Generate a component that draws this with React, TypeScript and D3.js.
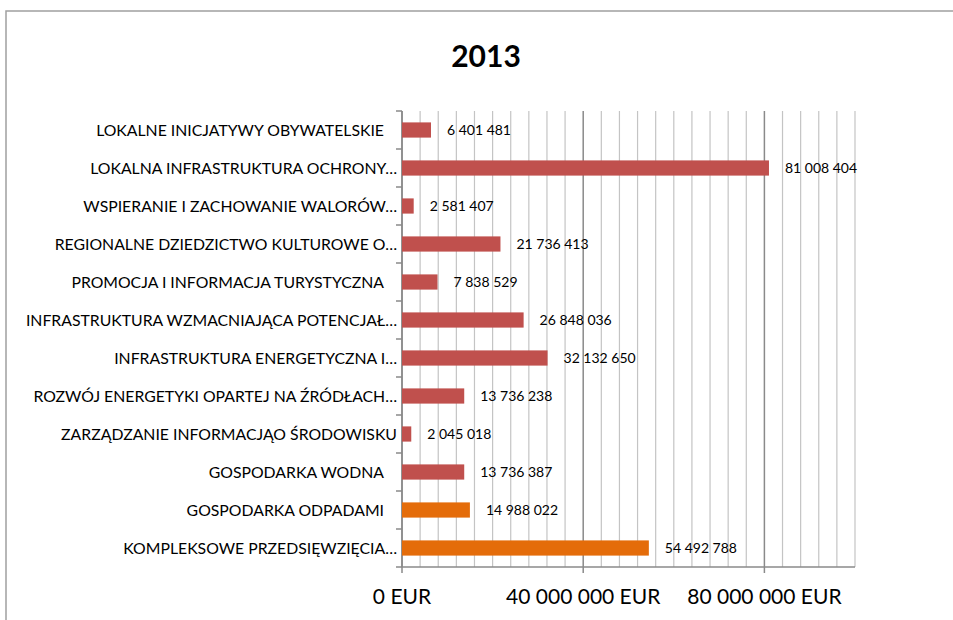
import React from "react";
import * as d3 from "d3";

const categories: string[] = [
  "LOKALNE INICJATYWY OBYWATELSKIE",
  "LOKALNA INFRASTRUKTURA OCHRONY…",
  "WSPIERANIE I ZACHOWANIE WALORÓW…",
  "REGIONALNE DZIEDZICTWO KULTUROWE O…",
  "PROMOCJA I INFORMACJA TURYSTYCZNA",
  "INFRASTRUKTURA WZMACNIAJĄCA POTENCJAŁ…",
  "INFRASTRUKTURA ENERGETYCZNA I…",
  "ROZWÓJ ENERGETYKI OPARTEJ NA ŹRÓDŁACH…",
  "ZARZĄDZANIE INFORMACJĄO ŚRODOWISKU",
  "GOSPODARKA WODNA",
  "GOSPODARKA ODPADAMI",
  "KOMPLEKSOWE PRZEDSIĘWZIĘCIA…",
];

const values: number[] = [
  6401481, 81008404, 2581407, 21736413, 7838529, 26848036, 32132650,
  13736238, 2045018, 13736387, 14988022, 54492788,
];

const highlighted: boolean[] = [
  false, false, false, false, false, false, false, false, false, false, true, true,
];

const xTicks: number[] = [0, 40000000, 80000000];
const title = "2013";

const W = 953;
const H = 620;
const left = 402;
const right = 855;
const top = 111;
const bottom = 567;

const fmt = (v: number) => d3.format(",")(v).replace(/,/g, " ");

export default function App() {
  const x = d3.scaleLinear().domain([0, 100000000]).range([left, right]);
  const y = d3
    .scaleBand<string>()
    .domain(categories)
    .range([top, bottom])
    .paddingInner(0.6)
    .paddingOuter(0.3);
  const minor = d3.range(0, 100000001, 4000000);
  const font = "Lato, 'Open Sans', sans-serif";
  const step = y.step();
  const boundaries = d3.range(categories.length + 1).map((i) => top + i * step);

  return (
    <svg
      width={W}
      height={H}
      style={{ position: "fixed", left: 0, top: 0, background: "#fff" }}
      fontFamily={font}
    >
      <rect x={0} y={0} width={W} height={H} fill="#fff" />
      <rect
        x={6}
        y={11}
        width={1000}
        height={700}
        fill="none"
        stroke="#a0a0a0"
        strokeWidth={1.5}
      />
      <text
        x={486}
        y={67}
        textAnchor="middle"
        fontSize={30}
        fontWeight="bold"
        fill="#000"
      >
        {title}
      </text>
      {minor.map((v) => (
        <line
          key={"g" + v}
          x1={x(v)}
          x2={x(v)}
          y1={top}
          y2={bottom}
          stroke={v % 40000000 === 0 ? "#8a8a8a" : "#c4c4c4"}
          strokeWidth={v % 40000000 === 0 ? 1.5 : 1.2}
        />
      ))}
      <line x1={left} x2={left} y1={top} y2={bottom} stroke="#8a8a8a" strokeWidth={1.5} />
      <line x1={left} x2={right} y1={bottom} y2={bottom} stroke="#8a8a8a" strokeWidth={1.5} />
      {boundaries.map((b, i) => (
        <line key={"yt" + i} x1={left - 6} x2={left} y1={b} y2={b} stroke="#8a8a8a" strokeWidth={1.5} />
      ))}
      {xTicks.map((t) => (
        <g key={"xt" + t}>
          <line x1={x(t)} x2={x(t)} y1={bottom} y2={bottom + 6} stroke="#8a8a8a" strokeWidth={1.5} />
          <text x={x(t)} y={604} textAnchor="middle" fontSize={21} fill="#000">
            {fmt(t) + " EUR"}
          </text>
        </g>
      ))}
      {categories.map((c, i) => {
        const yc = (y(c) as number) + y.bandwidth() / 2;
        const full = c.endsWith("…") || c.length > 33;
        return (
          <g key={c}>
            <rect
              x={x(0)}
              y={y(c) as number}
              width={x(values[i]) - x(0)}
              height={y.bandwidth()}
              fill={highlighted[i] ? "#e46c0a" : "#c0504d"}
            />
            <text
              x={x(values[i]) + 16}
              y={yc + 5}
              fontSize={14}
              fill="#000"
            >
              {fmt(values[i])}
            </text>
            <text
              x={full ? 397 : 384}
              y={yc + 6}
              textAnchor="end"
              fontSize={15.8}
              fill="#000"
            >
              {c}
            </text>
          </g>
        );
      })}
    </svg>
  );
}
